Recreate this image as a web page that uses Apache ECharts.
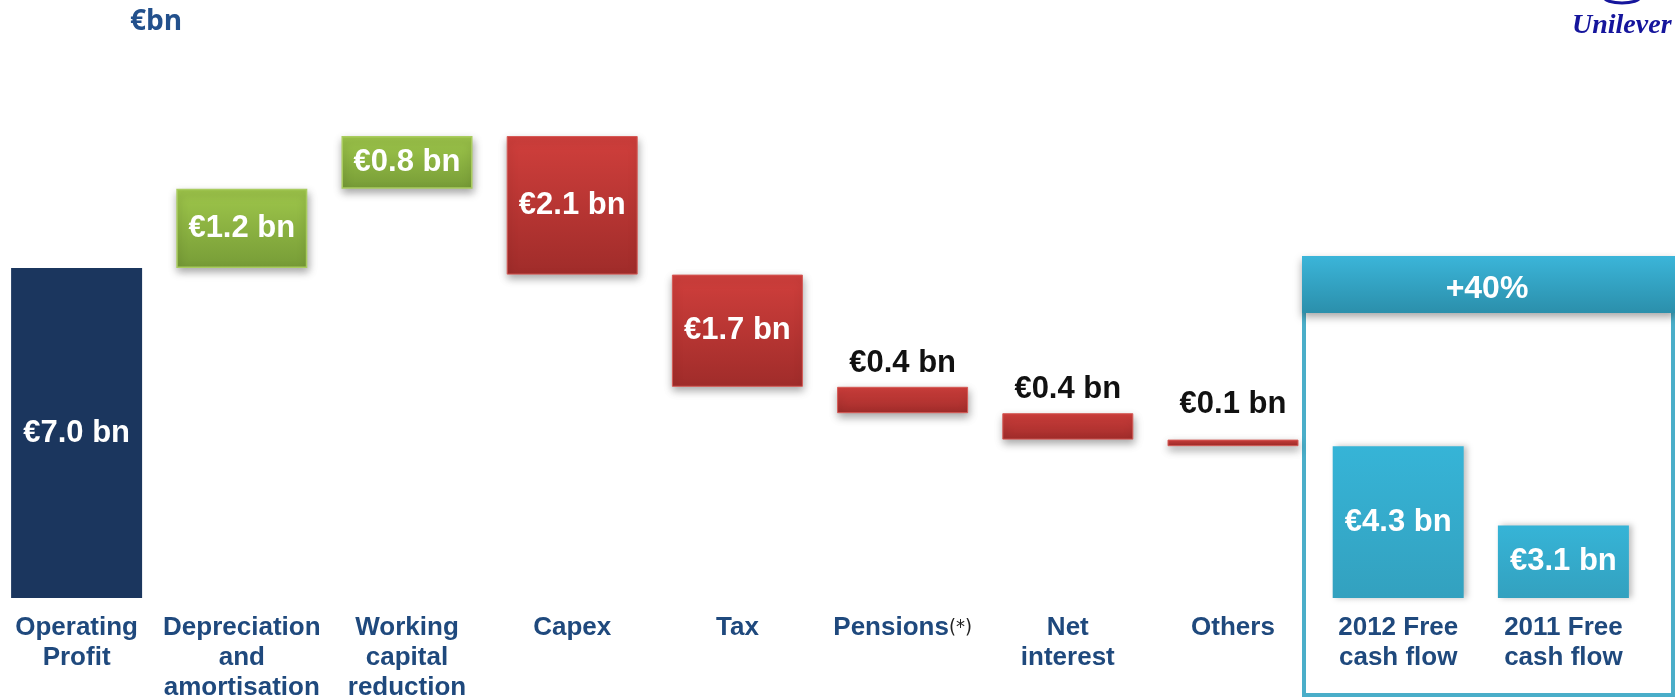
<!DOCTYPE html>
<html>
<head>
<meta charset="utf-8">
<script src="https://cdn.jsdelivr.net/npm/echarts@6/dist/echarts.min.js"></script>
<style>
  html, body { margin: 0; padding: 0; background: #ffffff; overflow: hidden; }
  #chart { width: 1675px; height: 698px; }
</style>
</head>
<body>
<div id="chart"></div>
<script>
// Free cash flow bridge, €bn
const unitLabel = '€bn';
const categories = [
  'Operating\nProfit',
  'Depreciation\nand\namortisation',
  'Working\ncapital\nreduction',
  'Capex',
  'Tax',
  'Pensions(*)',
  'Net\ninterest',
  'Others',
  '2012 Free\ncash flow',
  '2011 Free\ncash flow'
];
// starting total followed by the movements
const bridgeSteps = [7.0, 1.2, 0.8, -2.1, -1.7, -0.4, -0.4, -0.1];
// closing totals: 2012 and 2011
const freeCashFlow = [4.3, 3.1];
const growthLabel = '+40%';

// ---- build floating bars (invisible base + visible segment) ----
const bases = [];
const heights = [];
const kinds = [];
let running = 0;
bridgeSteps.forEach((v, i) => {
  if (i === 0) {
    bases.push(0); heights.push(v); kinds.push('start');
    running = v;
  } else if (v >= 0) {
    bases.push(running); heights.push(v); kinds.push('up');
    running = Math.round((running + v) * 10) / 10;
  } else {
    running = Math.round((running + v) * 10) / 10;
    bases.push(running); heights.push(-v); kinds.push('down');
  }
});
freeCashFlow.forEach(v => { bases.push(0); heights.push(v); kinds.push('total'); });

const grad = (top, bottom) => ({
  type: 'linear', x: 0, y: 0, x2: 0, y2: 1,
  colorStops: [{ offset: 0, color: top }, { offset: 1, color: bottom }]
});

const styles = {
  start: { color: '#1b365e' },
  up: {
    color: grad('#9fc74b', '#779c37'), borderColor: '#a9cc5f', borderWidth: 1.5,
    shadowBlur: 8, shadowColor: 'rgba(0,0,0,0.35)', shadowOffsetX: 1, shadowOffsetY: 4
  },
  down: {
    color: grad('#d03f3c', '#a02c2a'), borderColor: '#d55a56', borderWidth: 1,
    shadowBlur: 8, shadowColor: 'rgba(0,0,0,0.35)', shadowOffsetX: 1, shadowOffsetY: 4
  },
  total: {
    color: grad('#36b4d7', '#33a1bf'),
    shadowBlur: 6, shadowColor: 'rgba(0,0,0,0.25)', shadowOffsetX: 3, shadowOffsetY: 0
  }
};

const FONT = '"Liberation Sans", Arial, sans-serif';

const visibleData = heights.map((h, i) => {
  const inside = h >= 0.5;
  return {
    value: h,
    itemStyle: styles[kinds[i]],
    label: inside
      ? { position: 'inside', color: '#ffffff' }
      : { position: 'top', color: '#111111', distance: h < 0.2 ? 20 : 8 }
  };
});

const chart = echarts.init(document.getElementById('chart'), null, { renderer: 'canvas' });

chart.setOption({
  animation: false,
  backgroundColor: '#ffffff',
  grid: { left: -6, right: 29, top: 70, bottom: 100, containLabel: false, outerBoundsMode: 'none' },
  xAxis: {
    type: 'category',
    data: categories,
    axisLine: { show: false },
    axisTick: { show: false },
    axisLabel: {
      interval: 0,
      margin: 15,
      fontFamily: FONT,
      fontSize: 26,
      fontWeight: 'bold',
      color: '#1f497d',
      lineHeight: 30,
      formatter: v => v.replace('(*)', '{ast|(*)}'),
      rich: {
        ast: { fontFamily: '"DejaVu Sans Condensed", sans-serif', fontSize: 20, fontWeight: 'normal', color: '#222222', lineHeight: 30 }
      }
    }
  },
  yAxis: {
    type: 'value',
    min: 2,
    max: 10,
    show: false,
    splitLine: { show: false }
  },
  series: [
    {
      type: 'bar',
      stack: 'bridge',
      barWidth: 131,
      silent: true,
      itemStyle: { color: 'transparent' },
      data: bases
    },
    {
      type: 'bar',
      stack: 'bridge',
      barWidth: 131,
      clip: true,
      label: {
        show: true,
        fontFamily: FONT,
        fontSize: 31,
        fontWeight: 'bold',
        formatter: p => '€' + heights[p.dataIndex].toFixed(1) + ' bn'
      },
      data: visibleData
    }
  ],
  graphic: [
    {
      type: 'text', left: 130, top: 8,
      style: { text: unitLabel, fontFamily: '"Open Sans", sans-serif', fontWeight: 'bold', fontSize: 28, fill: '#22508c' }
    },
    {
      type: 'text', left: 1572, top: 12,
      style: { text: 'Unilever', fontFamily: '"Liberation Serif", serif', fontStyle: 'italic', fontWeight: 'bold', fontSize: 28, fill: '#15159c' }
    },
    {
      type: 'ellipse', shape: { cx: 1622, cy: -3, rx: 18, ry: 6 },
      style: { fill: 'none', stroke: '#15159c', lineWidth: 3 }
    },
    // outline around the two free cash flow bars
    {
      type: 'rect', z: -1,
      shape: { x: 1304, y: 258, width: 369, height: 437 },
      style: { fill: 'none', stroke: '#4aaec9', lineWidth: 4 }
    },
    {
      type: 'rect', z: 5,
      shape: { x: 1302, y: 256, width: 373, height: 57 },
      style: {
        fill: grad('#3bb5d9', '#2b8fab'),
        shadowBlur: 8, shadowColor: 'rgba(0,0,0,0.35)', shadowOffsetY: 4
      }
    },
    {
      type: 'text', z: 6, x: 1487, y: 289,
      style: {
        text: growthLabel, fontFamily: FONT, fontWeight: 'bold', fontSize: 32,
        fill: '#ffffff', align: 'center', verticalAlign: 'middle'
      }
    }
  ]
});
</script>
</body>
</html>
